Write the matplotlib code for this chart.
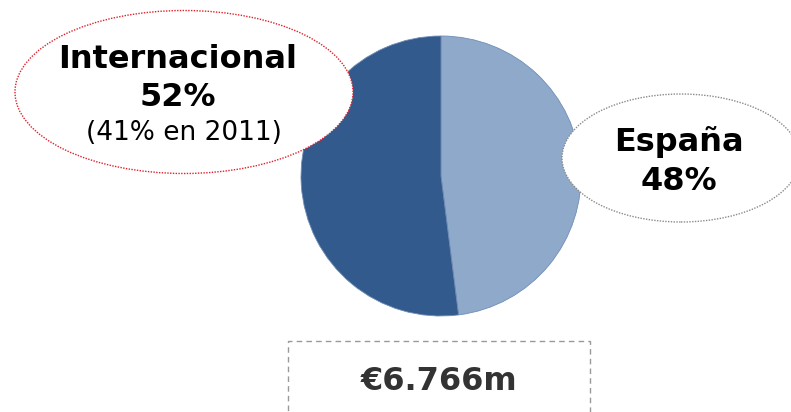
import matplotlib
matplotlib.use('Agg')
import matplotlib.pyplot as plt
from matplotlib.patches import Ellipse, Rectangle

# data
labels = ['España', 'Internacional']
shares = [48, 52]
colors = ['#8FA9CB', '#335A8C']
prev_intl = '(41% en 2011)'
total = '€6.766m'

H = 412

def fy(y):
    # pixel row (from top) -> data y
    return H - y

fig = plt.figure(figsize=(7.91, 4.12), dpi=100)
ax = fig.add_axes([0, 0, 1, 1])

ax.pie(shares, colors=colors, startangle=90, counterclock=False,
       center=(441, fy(176)), radius=140, frame=True,
       wedgeprops=dict(linewidth=0.6, edgecolor='#6f8db5'))
ax.set_xlim(0, 791)
ax.set_ylim(0, H)
ax.set_aspect('equal')
ax.axis('off')

# callouts
ax.add_patch(Ellipse((184, fy(92)), 338, 163, facecolor='white',
                     edgecolor='#e0202a', linestyle=(0, (1, 1)), linewidth=1.0, zorder=3))
ax.add_patch(Ellipse((681, fy(158)), 238, 128, facecolor='white',
                     edgecolor='#8a8a8a', linestyle=(0, (1, 1)), linewidth=1.0, zorder=3))

ax.text(178, fy(59), 'Internacional', ha='center', va='center', fontsize=23,
        fontweight='bold', color='black', zorder=4)
ax.text(178, fy(97), f'{shares[1]}%', ha='center', va='center', fontsize=23,
        fontweight='bold', color='black', zorder=4)
ax.text(184, fy(133), prev_intl, ha='center', va='center', fontsize=19,
        color='black', zorder=4)

ax.text(679, fy(142), labels[0], ha='center', va='center', fontsize=23,
        fontweight='bold', color='black', zorder=4)
ax.text(679, fy(181), f'{shares[0]}%', ha='center', va='center', fontsize=23,
        fontweight='bold', color='black', zorder=4)

# total box
ax.add_patch(Rectangle((288, fy(441)), 302, 100, facecolor='white', edgecolor='#999999',
                       linestyle=(0, (4, 3)), linewidth=1.0, zorder=3))
ax.text(439, fy(381), total, ha='center', va='center', fontsize=23,
        fontweight='bold', color='#333333', zorder=4)

fig.savefig('out.png', dpi=100)
